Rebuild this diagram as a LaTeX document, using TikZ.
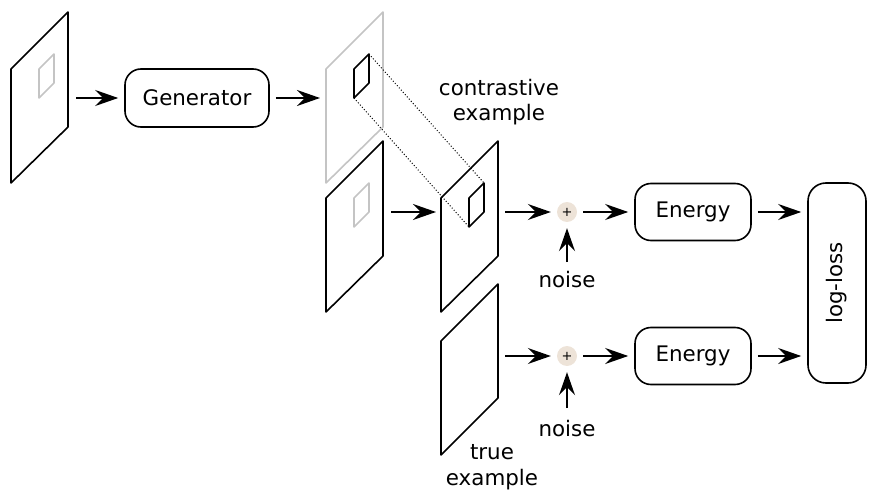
\documentclass[tikz,border=0pt]{standalone}
\usepackage{fontspec}
\setmainfont{DejaVu Sans}
\usetikzlibrary{arrows.meta}
\definecolor{lightpanel}{HTML}{C4C4C4}
\definecolor{plusfill}{HTML}{EDE3D8}
\begin{document}
\begin{tikzpicture}[x=1pt,y=-1pt,
  every node/.style={font=\fontsize{21.4}{25.5}\selectfont},
  panel/.style={line width=1.6pt, line join=round},
  rbox/.style={draw, line width=1.6pt, rounded corners=16pt, inner sep=0pt, align=center},
  plusnode/.style={circle, fill=plusfill, minimum size=20pt, inner sep=0pt, font=\fontsize{13}{13}\selectfont},
  arr/.style={-{Stealth[length=23pt,width=16pt,inset=8pt]}, line width=1.6pt, shorten <=6pt, shorten >=6pt},
  lbl/.style={align=center, inner sep=0pt}]
\useasboundingbox (0,0) rectangle (876,503);

% panels
\draw[panel] (11,69) -- (68,12) -- (68,127) -- (11,183) -- cycle;
\draw[panel, lightpanel] (39,69) -- (54,54) -- (54,83) -- (39,98) -- cycle;

\draw[panel, lightpanel] (326,69) -- (383,12) -- (383,127) -- (326,183) -- cycle;
\draw[panel] (354,69) -- (369,54) -- (369,83) -- (354,98) -- cycle;

\draw[panel] (326,198) -- (383,141) -- (383,256) -- (326,312) -- cycle;
\draw[panel, lightpanel] (354,198) -- (369,183) -- (369,212) -- (354,227) -- cycle;

\draw[panel] (441,198) -- (498,141) -- (498,256) -- (441,312) -- cycle;
\draw[panel] (469,198) -- (484,183) -- (484,212) -- (469,227) -- cycle;

\draw[panel] (441,341) -- (498,284) -- (498,398) -- (441,455) -- cycle;

% dotted projection lines
\coordinate (gtr) at (369,54);
\coordinate (gbl) at (354,98);
\coordinate (ctr) at (484,183);
\coordinate (cbl) at (469,227);
\draw[dotted, line width=1pt] (gtr) -- (ctr);
\draw[dotted, line width=1pt] (gbl) -- (cbl);

% nodes
\node[rbox, minimum width=144pt, minimum height=58pt] (gen) at (197,98) {Generator};
\node[rbox, minimum width=116pt, minimum height=57pt] (en1) at (693,212) {Energy};
\node[rbox, minimum width=116pt, minimum height=57pt] (en2) at (693,356) {Energy};
\node[rbox, minimum width=58pt, minimum height=200pt, rounded corners=18pt] (loss) at (837,283) {};
\node[rotate=90, inner sep=0pt] (losslbl) at (loss.center) {log-loss};

\node[plusnode] (p1) at (567,212) {+};
\node[plusnode] (p2) at (567,356) {+};

\node[lbl] (noise1) at (567,280) {noise};
\node[lbl] (noise2) at (567,429) {noise};
\node[lbl] (contr) at (499,102) {contrastive\\example};
\node[lbl] (truex) at (492,467) {true\\example};

% arrow end coordinates
\coordinate (a0s) at (70,98);
\coordinate (g1in) at (326,98);
\coordinate (p2out) at (385,212);
\coordinate (p3in) at (442,212);
\coordinate (p3out) at (499,212);
\coordinate (p4out) at (499,356);
\coordinate (n1s) at (567,268);
\coordinate (n2s) at (567,414);

% connectors
\draw[arr] (a0s) -- (gen.west);
\draw[arr] (gen.east) -- (g1in);
\draw[arr] (p2out) -- (p3in);
\draw[arr] (p3out) -- (p1.west);
\draw[arr] (p4out) -- (p2.west);
\draw[arr] (p1.east) -- (en1.west);
\draw[arr] (p2.east) -- (en2.west);
\draw[arr] (en1.east) -- (en1.east -| loss.west);
\draw[arr] (en2.east) -- (en2.east -| loss.west);
\draw[arr] (n1s) -- (p1.south);
\draw[arr] (n2s) -- (p2.south);
\end{tikzpicture}
\end{document}
